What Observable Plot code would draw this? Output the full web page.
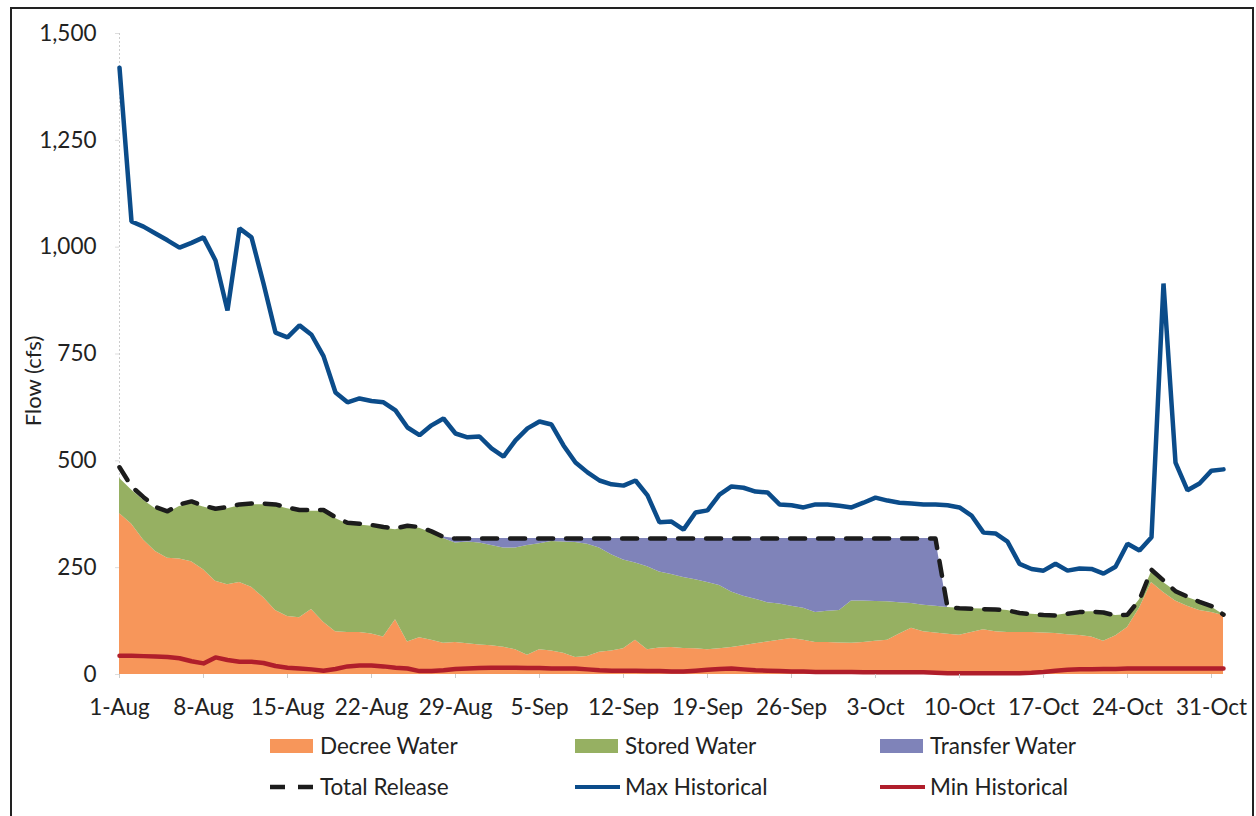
<!DOCTYPE html>
<html><head><meta charset="utf-8">
<script src="https://cdn.jsdelivr.net/npm/d3@7"></script>
<script src="https://cdn.jsdelivr.net/npm/@observablehq/plot@0.6"></script>
<style>
html,body{margin:0;padding:0;background:#fff;width:1256px;height:816px;overflow:hidden;font-family:Lato,"Open Sans",sans-serif;}
#frame{position:absolute;left:10px;top:7px;width:1240px;height:900px;border:2px solid #222;}
#chart{position:absolute;left:0;top:0;}
#ylabel{position:absolute;left:32px;top:381px;transform:translate(-50%,-50%) rotate(-90deg);font-size:22px;color:#222;white-space:nowrap;}
.leg{position:absolute;font-size:22.5px;color:#222;white-space:nowrap;line-height:24px;height:24px;}
.sw{position:absolute;}
</style></head><body>
<div id="frame"></div>
<div id="chart"></div>
<div id="ylabel">Flow (cfs)</div>
<div id="legend"></div>
<script>
// ---- data (daily, 1-Aug .. 1-Nov) ----
const tickLabels = ["1-Aug","8-Aug","15-Aug","22-Aug","29-Aug","5-Sep","12-Sep","19-Sep","26-Sep","3-Oct","10-Oct","17-Oct","24-Oct","31-Oct"];
const yTicks = [0,250,500,750,1000,1250,1500];

const decreeWater = [377,352,315,288,272,270,264,245,218,210,215,204,180,150,136,133,152,122,100,98,
  98,95,88,128,76,86,80,73,75,72,69,67,64,58,45,58,55,50,40,42,
  52,55,60,80,58,62,63,61,60,58,60,63,67,72,76,80,84,80,75,75,
  74,73,75,78,80,95,108,100,97,94,92,98,105,100,98,98,98,97,96,93,
  91,88,78,90,110,155,215,192,172,160,150,145,138];
const storedWater = [82,80,93,100,106,123,136,147,167,178,180,193,217,245,252,249,230,260,265,254,
  252,252,254,211,269,256,252,245,233,238,239,235,232,238,257,248,256,260,269,263,
  244,225,208,181,194,178,171,166,162,157,148,130,116,104,92,85,76,75,70,73,
  76,99,97,93,90,73,58,62,63,63,63,56,48,52,52,46,43,42,42,49,
  55,59,67,48,30,20,25,23,23,20,20,13,2];
const transferWater = [0,0,0,0,0,0,0,0,0,0,0,0,0,0,0,0,0,0,0,0,
  0,0,0,0,0,0,0,4,10,8,10,16,22,22,16,12,7,8,9,13,
  22,38,50,57,66,78,84,91,96,103,110,125,135,142,150,153,158,163,173,170,
  168,146,146,147,148,150,152,156,158,0,0,0,0,0,0,0,0,0,0,0,
  0,0,0,0,0,0,0,0,0,0,0,0,0];
const totalRelease = [485,440,415,392,382,398,405,395,388,392,398,400,400,398,391,385,385,385,368,355,
  353,350,345,342,348,345,335,322,318,318,318,318,318,318,318,318,318,318,318,318,
  318,318,318,318,318,318,318,318,318,318,318,318,318,318,318,318,318,318,318,318,
  318,318,318,318,318,318,318,318,318,157,155,154,153,152,150,144,141,139,138,142,
  146,147,145,138,140,175,245,220,195,182,170,160,140];
const maxHistorical = [1420,1060,1048,1032,1016,999,1010,1023,969,852,1044,1023,915,800,789,817,795,745,660,637,
  646,640,637,618,578,560,583,599,564,555,557,529,510,548,576,592,585,536,496,473,
  454,445,442,454,419,356,358,339,379,384,421,440,437,428,426,398,396,391,398,398,
  395,391,402,414,407,402,400,398,398,396,391,372,332,330,311,259,247,243,259,243,
  248,247,236,252,306,290,321,915,496,431,447,477,480];
const minHistorical = [44,44,43,42,41,38,31,26,40,34,30,30,27,20,16,14,12,9,13,19,
  21,21,19,16,14,8,8,10,13,14,15,16,16,16,15,15,14,14,14,12,
  10,9,9,9,8,8,7,7,9,11,13,14,12,10,9,8,7,7,6,6,
  6,6,5,5,5,5,5,5,4,3,3,3,3,3,3,3,4,6,9,11,
  12,12,13,13,14,14,14,14,14,14,14,14,14];

const areaNames = ["Decree Water","Stored Water","Transfer Water"];
const areaColors = ["#F7965A","#96B062","#7F83B9"];
const lineNames = ["Total Release","Max Historical","Min Historical"];
const lineColors = ["#1c1c1c","#0B4C8A","#B01E2B"];

// ---- build tables ----
const DAY = 864e5;
const start = Date.UTC(2013,7,1);
const dates = decreeWater.map((_, i) => new Date(start + i*DAY));
const tickDates = tickLabels.map((_, i) => new Date(start + i*7*DAY));
const areaSeries = [decreeWater, storedWater, transferWater];
const stacked = [];
areaNames.forEach((name, k) => areaSeries[k].forEach((v, i) => stacked.push({date: dates[i], type: name, value: v})));
const rows = dates.map((d, i) => ({date: d, total: totalRelease[i], max: maxHistorical[i], min: minHistorical[i]}));

const chart = Plot.plot({
  width: 1256, height: 730,
  marginLeft: 119, marginRight: 33, marginTop: 33, marginBottom: 56,
  style: {fontFamily: "Lato, 'Open Sans', sans-serif", fontSize: "22.5px", color: "#222", background: "transparent"},
  x: {type: "utc", domain: [dates[0], dates[dates.length-1]]},
  y: {domain: [0, 1500], label: null},
  color: {domain: areaNames, range: areaColors},
  marks: [
    Plot.ruleX([dates[0]], {stroke: "#ccc", strokeDasharray: "2,2"}),
    Plot.areaY(stacked, {x: "date", y: "value", fill: "type", order: areaNames}),
    Plot.lineY(rows, {x: "date", y: "min", stroke: lineColors[2], strokeWidth: 4.5}),
    Plot.lineY(rows, {x: "date", y: "total", stroke: lineColors[0], strokeWidth: 4.5, strokeDasharray: "15,13"}),
    Plot.lineY(rows, {x: "date", y: "max", stroke: lineColors[1], strokeWidth: 4.5, strokeLinejoin: "miter"}),
    Plot.axisY({ticks: yTicks, tickFormat: d3.format(","), tickSize: 4, tickPadding: 19, stroke: "#ddd", fill: "#222", label: null}),
    Plot.axisX({ticks: tickDates, tickFormat: d => tickLabels[tickDates.findIndex(t => +t === +d)], tickSize: 4, tickPadding: 21, stroke: "#ccc", fill: "#222", label: null})
  ]
});
document.getElementById("chart").appendChild(chart);

// ---- legend ----
const legend = document.getElementById("legend");
const colX = [270, 575, 880];
const rowY = [746, 787];
function addItem(col, row, label, draw) {
  const sw = document.createElementNS("http://www.w3.org/2000/svg", "svg");
  sw.setAttribute("class", "sw");
  sw.setAttribute("width", 46); sw.setAttribute("height", 20);
  sw.style.left = colX[col] + "px"; sw.style.top = (rowY[row] - 10) + "px";
  sw.innerHTML = draw;
  legend.appendChild(sw);
  const t = document.createElement("div");
  t.className = "leg"; t.textContent = label;
  t.style.left = (colX[col] + 50) + "px"; t.style.top = (rowY[row] - 12) + "px";
  legend.appendChild(t);
}
areaNames.forEach((n, k) => addItem(k, 0, n, `<rect x="0" y="3" width="43" height="14" fill="${areaColors[k]}"/>`));
addItem(0, 1, lineNames[0], `<line x1="0" x2="43" y1="10" y2="10" stroke="${lineColors[0]}" stroke-width="4.5" stroke-dasharray="15,13"/>`);
addItem(1, 1, lineNames[1], `<line x1="0" x2="45" y1="10" y2="10" stroke="${lineColors[1]}" stroke-width="4"/>`);
addItem(2, 1, lineNames[2], `<line x1="0" x2="45" y1="10" y2="10" stroke="${lineColors[2]}" stroke-width="4"/>`);
</script>
</body></html>
